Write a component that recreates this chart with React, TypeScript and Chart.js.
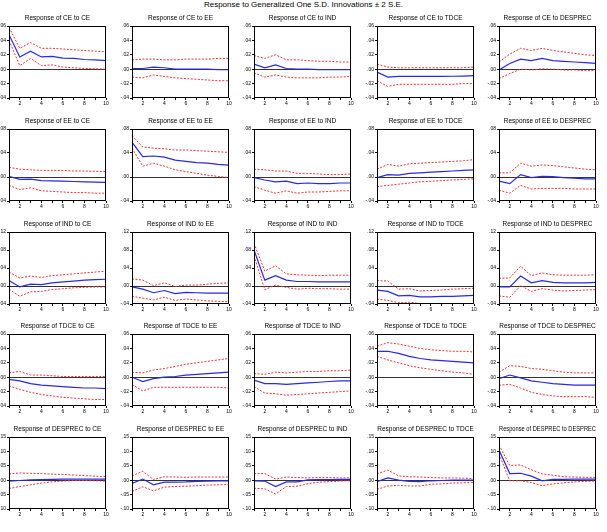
import React, { useEffect, useRef } from 'react';
import { Chart, registerables } from 'chart.js';

Chart.register(...registerables);

// ---------- data ----------
const periods = [1, 2, 3, 4, 5, 6, 7, 8, 9, 10];
const variables = ['CE', 'EE', 'IND', 'TDCE', 'DESPREC'];
const mainTitle = 'Response to Generalized One S.D. Innovations \u00B1 2 S.E.';
const xLabelledTicks = [2, 4, 6, 8, 10];

// y scale per responding variable (row)
const rowYMin = [-0.04, -0.04, -0.04, -0.04, -0.1];
const rowYMax = [0.06, 0.08, 0.12, 0.06, 0.15];
const rowYStep = [0.02, 0.04, 0.04, 0.02, 0.05];

// Response of CE
const CE_CE = {
  resp: [0.048, 0.017, 0.025, 0.017, 0.0177, 0.0155, 0.015, 0.0135, 0.013, 0.012],
  upper: [0.058, 0.029, 0.037, 0.029, 0.029, 0.028, 0.027, 0.026, 0.025, 0.024],
  lower: [0.04, 0.005, 0.015, 0.005, 0.006, 0.003, 0.002, 0.001, 0.0005, 0.0],
};
const CE_EE = {
  resp: [0.001, 0.001, 0.003, 0.002, 0.0, 0.0, 0.0, 0.0, -0.0005, -0.0005],
  upper: [0.013, 0.014, 0.014, 0.013, 0.013, 0.014, 0.014, 0.014, 0.015, 0.015],
  lower: [-0.011, -0.012, -0.008, -0.01, -0.012, -0.013, -0.014, -0.015, -0.016, -0.016],
};
const CE_IND = {
  resp: [0.007, 0.002, 0.006, 0.001, 0.0, 0.0, -0.0005, -0.0005, -0.0005, -0.0005],
  upper: [0.019, 0.015, 0.02, 0.013, 0.013, 0.012, 0.011, 0.011, 0.01, 0.01],
  lower: [-0.005, -0.011, -0.008, -0.011, -0.012, -0.012, -0.012, -0.011, -0.011, -0.01],
};
const CE_TDCE = {
  resp: [-0.004, -0.011, -0.01, -0.01, -0.01, -0.01, -0.01, -0.0098, -0.0095, -0.009],
  upper: [0.007, 0.003, 0.002, 0.002, 0.002, 0.002, 0.002, 0.002, 0.002, 0.003],
  lower: [-0.016, -0.024, -0.021, -0.021, -0.021, -0.021, -0.021, -0.021, -0.02, -0.02],
};
const CE_DESPREC = {
  resp: [-0.001, 0.008, 0.014, 0.012, 0.015, 0.012, 0.011, 0.01, 0.009, 0.008],
  upper: [0.01, 0.021, 0.029, 0.026, 0.029, 0.026, 0.024, 0.022, 0.02, 0.019],
  lower: [-0.013, -0.006, 0.0, -0.001, 0.0005, 0.0, -0.001, -0.001, -0.002, -0.002],
};

// Response of EE
const EE_CE = {
  resp: [0.001, -0.004, -0.0035, -0.006, -0.0065, -0.007, -0.0075, -0.008, -0.0085, -0.009],
  upper: [0.016, 0.013, 0.012, 0.011, 0.011, 0.011, 0.01, 0.01, 0.0095, 0.009],
  lower: [-0.014, -0.021, -0.018, -0.023, -0.024, -0.025, -0.026, -0.026, -0.027, -0.027],
};
const EE_EE = {
  resp: [0.058, 0.034, 0.035, 0.033, 0.028, 0.026, 0.024, 0.023, 0.021, 0.0197],
  upper: [0.069, 0.05, 0.048, 0.047, 0.045, 0.045, 0.044, 0.043, 0.042, 0.041],
  lower: [0.048, 0.018, 0.023, 0.018, 0.012, 0.009, 0.006, 0.003, 0.001, -0.001],
};
const EE_IND = {
  resp: [-0.001, -0.005, -0.008, -0.007, -0.011, -0.01, -0.011, -0.011, -0.01, -0.01],
  upper: [0.013, 0.012, 0.01, 0.01, 0.006, 0.006, 0.005, 0.004, 0.004, 0.005],
  lower: [-0.016, -0.022, -0.027, -0.023, -0.027, -0.025, -0.025, -0.024, -0.023, -0.023],
};
const EE_TDCE = {
  resp: [-0.001, 0.004, 0.003, 0.006, 0.007, 0.008, 0.009, 0.01, 0.011, 0.012],
  upper: [0.013, 0.021, 0.018, 0.022, 0.023, 0.024, 0.025, 0.026, 0.027, 0.029],
  lower: [-0.016, -0.014, -0.012, -0.01, -0.008, -0.007, -0.006, -0.005, -0.004, -0.003],
};
const EE_DESPREC = {
  resp: [-0.007, -0.011, 0.004, -0.001, 0.001, 0.0005, -0.001, -0.002, -0.003, -0.003],
  upper: [0.007, 0.007, 0.023, 0.018, 0.02, 0.019, 0.017, 0.015, 0.013, 0.012],
  lower: [-0.022, -0.027, -0.014, -0.02, -0.019, -0.019, -0.019, -0.02, -0.02, -0.02],
};

// Response of IND
const IND_CE = {
  resp: [0.012, -0.002, 0.004, 0.003, 0.007, 0.009, 0.011, 0.013, 0.014, 0.015],
  upper: [0.031, 0.018, 0.022, 0.019, 0.023, 0.025, 0.027, 0.029, 0.031, 0.033],
  lower: [-0.007, -0.023, -0.013, -0.012, -0.008, -0.006, -0.004, -0.003, -0.002, -0.002],
};
const IND_EE = {
  resp: [-0.002, -0.007, -0.015, -0.01, -0.017, -0.014, -0.015, -0.016, -0.016, -0.016],
  upper: [0.016, 0.013, 0.001, 0.007, -0.001, 0.002, 0.002, 0.004, 0.006, 0.007],
  lower: [-0.023, -0.027, -0.031, -0.025, -0.032, -0.029, -0.031, -0.033, -0.034, -0.035],
};
const IND_IND = {
  resp: [0.08, 0.013, 0.023, 0.013, 0.01, 0.01, 0.009, 0.009, 0.009, 0.009],
  upper: [0.095, 0.033, 0.045, 0.027, 0.025, 0.024, 0.023, 0.024, 0.024, 0.024],
  lower: [0.067, -0.008, 0.002, -0.003, -0.007, -0.005, -0.006, -0.006, -0.007, -0.007],
};
const IND_TDCE = {
  resp: [-0.009, -0.012, -0.022, -0.021, -0.024, -0.024, -0.023, -0.023, -0.022, -0.021],
  upper: [0.012, 0.011, -0.007, -0.006, -0.011, -0.01, -0.009, -0.007, -0.006, -0.005],
  lower: [-0.029, -0.032, -0.037, -0.036, -0.039, -0.039, -0.039, -0.039, -0.039, -0.039],
};
const IND_DESPREC = {
  resp: [-0.002, -0.002, 0.022, 0.007, 0.012, 0.008, 0.007, 0.007, 0.007, 0.008],
  upper: [0.017, 0.018, 0.044, 0.023, 0.029, 0.025, 0.024, 0.024, 0.024, 0.025],
  lower: [-0.022, -0.025, 0.001, -0.012, -0.006, -0.009, -0.011, -0.01, -0.009, -0.008],
};

// Response of TDCE
const TDCE_CE = {
  resp: [-0.003, -0.005, -0.009, -0.011, -0.012, -0.013, -0.014, -0.015, -0.015, -0.016],
  upper: [0.006, 0.008, 0.003, 0.003, 0.002, 0.001, 0.001, 0.001, 0.001, 0.001],
  lower: [-0.012, -0.017, -0.021, -0.024, -0.026, -0.028, -0.029, -0.03, -0.031, -0.031],
};
const TDCE_EE = {
  resp: [0.0, -0.006, -0.002, 0.0, 0.001, 0.003, 0.004, 0.005, 0.006, 0.007],
  upper: [0.007, 0.006, 0.01, 0.012, 0.015, 0.018, 0.02, 0.022, 0.024, 0.026],
  lower: [-0.01, -0.019, -0.014, -0.014, -0.014, -0.014, -0.014, -0.014, -0.014, -0.015],
};
const TDCE_IND = {
  resp: [-0.004, -0.009, -0.009, -0.01, -0.009, -0.008, -0.007, -0.006, -0.005, -0.005],
  upper: [0.005, 0.004, 0.007, 0.006, 0.007, 0.008, 0.008, 0.009, 0.009, 0.01],
  lower: [-0.013, -0.022, -0.023, -0.025, -0.024, -0.023, -0.022, -0.021, -0.02, -0.019],
};
const TDCE_TDCE = {
  resp: [0.036, 0.036, 0.033, 0.029, 0.026, 0.024, 0.023, 0.022, 0.021, 0.02],
  upper: [0.043, 0.048, 0.046, 0.043, 0.04, 0.038, 0.037, 0.036, 0.036, 0.035],
  lower: [0.029, 0.024, 0.02, 0.016, 0.013, 0.011, 0.009, 0.007, 0.006, 0.004],
};
const TDCE_DESPREC = {
  resp: [-0.002, 0.003, -0.001, -0.005, -0.007, -0.009, -0.01, -0.011, -0.011, -0.011],
  upper: [0.007, 0.016, 0.015, 0.012, 0.011, 0.009, 0.007, 0.006, 0.006, 0.006],
  lower: [-0.011, -0.01, -0.015, -0.021, -0.024, -0.026, -0.027, -0.027, -0.027, -0.028],
};

// Response of DESPREC
const DESPREC_CE = {
  resp: [-0.003, -0.001, 0.001, 0.002, 0.003, 0.004, 0.004, 0.004, 0.004, 0.004],
  upper: [0.022, 0.025, 0.024, 0.023, 0.021, 0.02, 0.018, 0.016, 0.014, 0.012],
  lower: [-0.029, -0.022, -0.016, -0.01, -0.006, -0.003, -0.001, -0.001, -0.002, -0.003],
};
const DESPREC_EE = {
  resp: [-0.011, 0.004, -0.016, -0.007, -0.007, -0.006, -0.004, -0.003, -0.002, -0.002],
  upper: [0.015, 0.031, 0.002, 0.012, 0.011, 0.01, 0.011, 0.011, 0.011, 0.011],
  lower: [-0.039, -0.023, -0.037, -0.024, -0.022, -0.021, -0.019, -0.017, -0.016, -0.015],
};
const DESPREC_IND = {
  resp: [-0.002, -0.003, -0.022, -0.006, -0.006, 0.001, 0.002, 0.002, 0.003, 0.003],
  upper: [0.023, 0.023, 0.004, 0.011, 0.009, 0.008, 0.009, 0.009, 0.008, 0.008],
  lower: [-0.028, -0.03, -0.048, -0.022, -0.021, -0.012, -0.007, -0.005, -0.003, -0.002],
};
const DESPREC_TDCE = {
  resp: [-0.005, 0.008, 0.0, -0.004, -0.005, -0.002, -0.001, 0.0, 0.0, 0.0],
  upper: [0.022, 0.035, 0.015, 0.012, 0.011, 0.009, 0.008, 0.008, 0.007, 0.006],
  lower: [-0.032, -0.02, -0.018, -0.02, -0.02, -0.014, -0.013, -0.01, -0.009, -0.008],
};
const DESPREC_DESPREC = {
  resp: [0.105, 0.023, 0.024, 0.014, -0.002, 0.003, 0.003, 0.004, 0.004, 0.004],
  upper: [0.122, 0.051, 0.053, 0.036, 0.022, 0.017, 0.012, 0.011, 0.01, 0.01],
  lower: [0.091, -0.002, -0.002, -0.008, -0.019, -0.013, -0.009, -0.006, -0.004, -0.003],
};

const panelGrid = [
  [CE_CE, CE_EE, CE_IND, CE_TDCE, CE_DESPREC],
  [EE_CE, EE_EE, EE_IND, EE_TDCE, EE_DESPREC],
  [IND_CE, IND_EE, IND_IND, IND_TDCE, IND_DESPREC],
  [TDCE_CE, TDCE_EE, TDCE_IND, TDCE_TDCE, TDCE_DESPREC],
  [DESPREC_CE, DESPREC_EE, DESPREC_IND, DESPREC_TDCE, DESPREC_DESPREC],
];

// ---------- layout ----------
const COL_LEFT = [9, 132, 254, 377, 499];
const ROW_TOP = [26, 129, 232, 334, 437];
const PLOT_W = 97;
const PLOT_H = 72;
const Y_AXIS_W = 12;
const X_AXIS_H = 12;
const TITLE_H = 16;
const RIGHT_PAD = 5;
const FONT = '"Liberation Sans", Arial, sans-serif';

const BLUE = 'rgb(40,40,230)';
const RED = 'rgb(235,50,50)';

const fmt = (v: number) => {
  const s = Math.abs(v).toFixed(2).replace(/^0/, '');
  return (v < -1e-9 ? '-' : '') + s;
};

const framePlugin = {
  id: 'frame',
  afterDraw(chart: any) {
    const { ctx, chartArea } = chart;
    ctx.save();
    ctx.strokeStyle = '#000';
    ctx.lineWidth = 1;
    ctx.strokeRect(
      Math.round(chartArea.left) + 0.5,
      Math.round(chartArea.top) + 0.5,
      Math.round(chartArea.right - chartArea.left) - 1,
      Math.round(chartArea.bottom - chartArea.top) - 1
    );
    ctx.restore();
  },
};

function Panel({ row, col }: { row: number; col: number }) {
  const ref = useRef<HTMLCanvasElement | null>(null);
  const w = Y_AXIS_W + PLOT_W + RIGHT_PAD;
  const h = TITLE_H + PLOT_H + X_AXIS_H;
  useEffect(() => {
    if (!ref.current) return;
    const d = panelGrid[row][col];
    const pts = (arr: number[]) => arr.map((y, i) => ({ x: periods[i], y }));
    const chart = new Chart(ref.current, {
      type: 'line',
      data: {
        datasets: [
          {
            data: pts(d.upper),
            borderColor: RED,
            borderWidth: 1,
            borderDash: [2, 1.5],
            pointRadius: 0,
            tension: 0,
          },
          {
            data: pts(d.lower),
            borderColor: RED,
            borderWidth: 1,
            borderDash: [2, 1.5],
            pointRadius: 0,
            tension: 0,
          },
          {
            data: pts(d.resp),
            borderColor: BLUE,
            borderWidth: 1.2,
            pointRadius: 0,
            tension: 0,
          },
        ],
      },
      options: {
        responsive: false,
        animation: false,
        devicePixelRatio: 1,
        layout: { padding: { left: 0, right: RIGHT_PAD, top: 0, bottom: 0 } },
        plugins: {
          legend: { display: false },
          tooltip: { enabled: false },
          title: {
            display: true,
            text: `Response of ${variables[row]} to ${variables[col]}`,
            color: '#000',
            fullSize: false,
            font: { size: 6.5, family: FONT, weight: 'normal', lineHeight: 1 },
            padding: { top: 5, bottom: TITLE_H - 5 - 6.5 },
          },
        },
        scales: {
          x: {
            type: 'linear',
            min: 1,
            max: 10,
            afterFit: (s: any) => {
              s.height = X_AXIS_H;
            },
            border: { display: false },
            grid: { drawOnChartArea: false, drawTicks: true, tickLength: 2, tickColor: '#000' },
            ticks: {
              stepSize: 1,
              autoSkip: false,
              maxRotation: 0,
              padding: 1,
              color: '#000',
              font: { size: 5, family: FONT },
              callback: (v: any) => (xLabelledTicks.includes(Number(v)) ? String(v) : ''),
            },
          },
          y: {
            min: rowYMin[row],
            max: rowYMax[row],
            afterFit: (s: any) => {
              s.width = Y_AXIS_W;
            },
            border: { display: false },
            grid: {
              drawOnChartArea: true,
              drawTicks: true,
              tickLength: 2,
              tickColor: '#000',
              color: (c: any) => (c.tick && Math.abs(c.tick.value) < 1e-9 ? '#333' : 'rgba(0,0,0,0)'),
              lineWidth: 1,
            },
            ticks: {
              stepSize: rowYStep[row],
              padding: 1,
              color: '#000',
              font: { size: 5, family: FONT },
              callback: (v: any) => fmt(Number(v)),
            },
          },
        },
      },
      plugins: [framePlugin],
    } as any);
    return () => chart.destroy();
  }, [row, col]);
  return (
    <canvas
      ref={ref}
      width={w}
      height={h}
      style={{
        position: 'absolute',
        left: COL_LEFT[col] - Y_AXIS_W,
        top: ROW_TOP[row] - TITLE_H,
        width: w,
        height: h,
      }}
    />
  );
}

export default function App() {
  const cells: React.ReactNode[] = [];
  for (let r = 0; r < 5; r++) {
    for (let c = 0; c < 5; c++) {
      cells.push(<Panel key={`${r}-${c}`} row={r} col={c} />);
    }
  }
  return (
    <div
      style={{
        position: 'absolute',
        left: 0,
        top: 0,
        width: 607,
        height: 532,
        background: '#fff',
        overflow: 'hidden',
      }}
    >
      <div
        style={{
          position: 'absolute',
          left: 0,
          top: 0,
          width: 607,
          textAlign: 'center',
          fontFamily: FONT,
          fontSize: 8,
          lineHeight: '10px',
          color: '#000',
        }}
      >
        {mainTitle}
      </div>
      {cells}
    </div>
  );
}
